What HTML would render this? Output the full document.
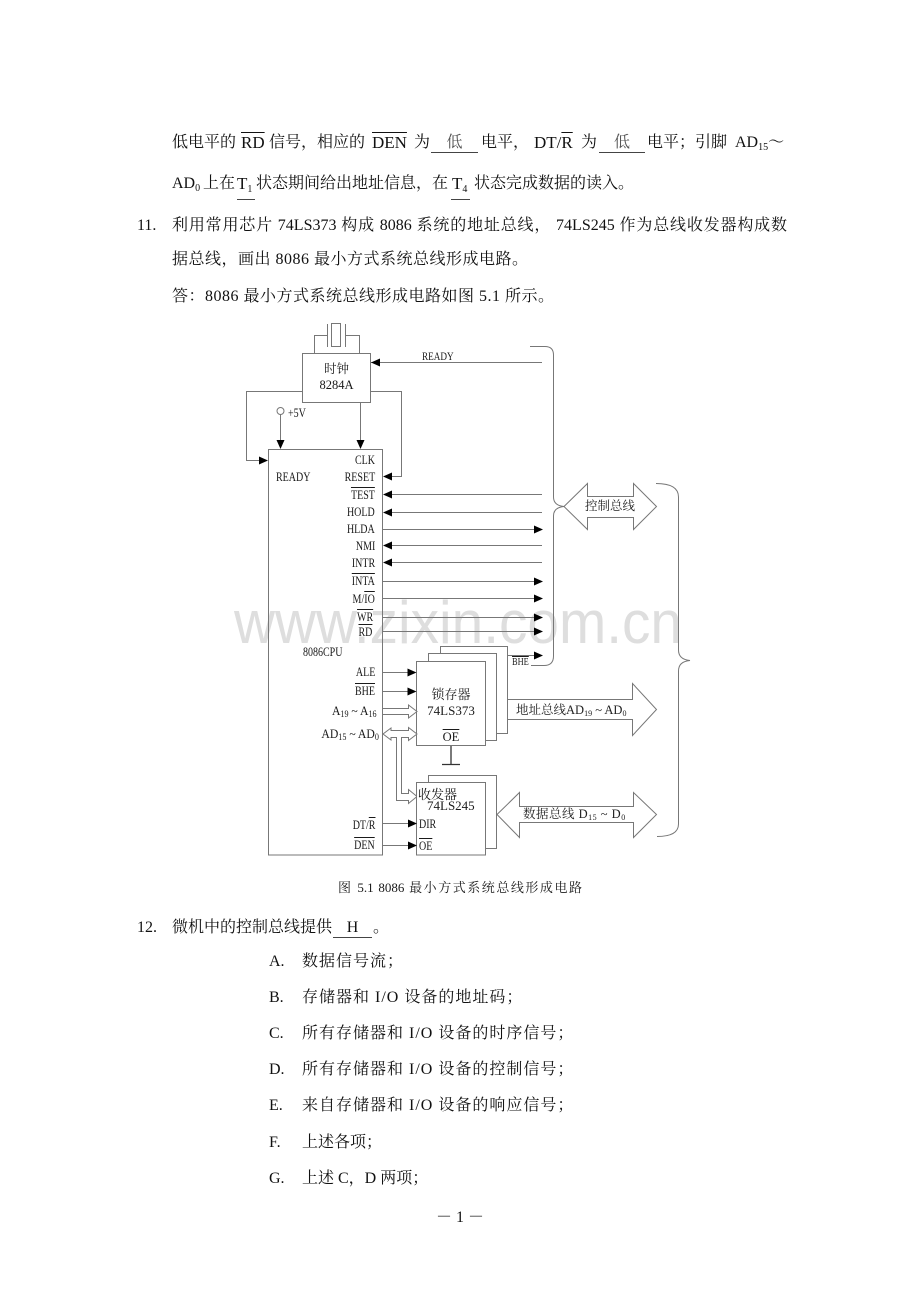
<!DOCTYPE html>
<html><head><meta charset="utf-8">
<style>
html,body{margin:0;padding:0;background:#fff;}
#pg{position:relative;width:920px;height:1302px;overflow:hidden;background:#fff;color:#111;font-family:"Liberation Serif","Noto Serif CJK SC",serif;}
.t{position:absolute;font-size:16px;line-height:18px;height:18px;white-space:nowrap;}
.t sub{font-size:10px;vertical-align:-3px;line-height:0;}
.o{text-decoration:overline;}
.u{position:absolute;border-bottom:1px solid #444;height:0;}
.r{position:absolute;right:545px;font-size:12.5px;line-height:14px;white-space:nowrap;transform:scaleX(.8);transform-origin:100% 50%;color:#1a1a1a;}
.l{position:absolute;font-size:12.5px;line-height:14px;white-space:nowrap;transform:scaleX(.8);transform-origin:0 50%;color:#1a1a1a;}
.c{position:absolute;font-size:13px;line-height:15px;white-space:nowrap;text-align:center;color:#1a1a1a;}
.r sub,.l sub,.c sub,.b sub{font-size:8px;vertical-align:-2px;line-height:0;}
.r.w{transform:scaleX(.9);font-size:13px;}
.r.w sub{font-size:9px;}
.b{position:absolute;font-size:12.5px;line-height:14px;white-space:nowrap;color:#222;}
</style></head>
<body><div id="pg">

<svg width="920" height="1302" style="position:absolute;left:0;top:0">
<text x="234" y="643" font-family="Liberation Sans, sans-serif" font-size="60" fill="#dedede" textLength="448" lengthAdjust="spacingAndGlyphs">www.zixin.com.cn</text>
<g fill="none" stroke="#777" stroke-width="1">
<path d="M314.5 353V335.5H327.5M345.5 335.5H359.5V353"/>
<line x1="327.5" y1="324" x2="327.5" y2="347"/>
<line x1="345.5" y1="324" x2="345.5" y2="347"/>
<rect x="331.5" y="323.5" width="9" height="23"/>
<rect x="302.5" y="353.5" width="68" height="49" fill="#fff"/>
<path d="M371 362.5H542"/>
<path d="M302 391.5H246.5V460.5H262"/>
<circle cx="280.5" cy="411" r="3.5" fill="#fff"/>
<path d="M280.5 414.5V442"/>
<path d="M360.5 403V442"/>
<path d="M371 391.5H401.5V476.5H390"/>
<rect x="268.5" y="449.5" width="114" height="405.5" fill="none"/>
<path d="M390 494.5H542M390 512.5H542M383 529.5H535M390 545.5H542M390 562.5H542M383 581.5H535M383 598.5H535M383 617.5H535M383 631.5H535M508 655.5H535"/>
<path d="M383 672.5H409M383 691.5H409M383 823.5H410M383 845.5H410"/>
<path d="M530 346.5H545Q553.5 346.5 553.5 355V497Q553.5 505.5 564 506.5Q553.5 507.5 553.5 516V656Q553.5 665.5 544 665.5H531"/>
<path d="M564 506.5L587.5 483.5V496.5H633.5V483.5L656.5 506.5L633.5 529.5V517.5H587.5V529.5Z" fill="#fff"/>
<path d="M656 483.5Q678.5 483.5 678.5 497V650Q678.5 659.5 690 660.5Q678.5 661.5 678.5 671V824Q678.5 836.5 657 836.5"/>
<rect x="440.5" y="646.5" width="67" height="87" fill="#fff"/>
<rect x="428.5" y="653.5" width="68" height="87" fill="#fff"/>
<rect x="416.5" y="661.5" width="69" height="84" fill="#fff"/>
<path d="M383 708.5H408.5V705L417 711.5L408.5 718V714.5H383" fill="#fff"/>
<path d="M391 728L383 734L391 740V737.5H396.5V800.5H408.5V803.5L417 796.5L408.5 789.5V793.5H401.5V737.5H408.5V740.5L417 734L408.5 727.5V730.5H391Z" fill="#fff"/>
<rect x="428.5" y="775.5" width="68" height="73" fill="#fff"/>
<rect x="416.5" y="782.5" width="69" height="72.5" fill="#fff"/>
<path d="M508 699.5H632.5V683.5L656.5 709.5L632.5 735.5V719.5H508" fill="#fff"/>
<path d="M497 814.5L519.5 792.5V806.5H633.5V792.5L656.5 814.5L633.5 837.5V822.5H519.5V837.5Z" fill="#fff"/>
</g>
<g stroke="#333" stroke-width="1.3" fill="none">
<path d="M451 746V764M442 764.5H460"/>
</g>
<g fill="#000">
<polygon points="371,362.5 380,358.5 380,366.5"/>
<polygon points="268,460.5 259,456.5 259,464.5"/>
<polygon points="280.5,449 276.5,440 284.5,440"/>
<polygon points="360.5,449 356.5,440 364.5,440"/>
<polygon points="383,476.5 392,472.5 392,480.5"/>
<polygon points="383,494.5 392,490.5 392,498.5"/>
<polygon points="383,512.5 392,508.5 392,516.5"/>
<polygon points="383,545.5 392,541.5 392,549.5"/>
<polygon points="383,562.5 392,558.5 392,566.5"/>
<polygon points="543,529.5 534,525.5 534,533.5"/>
<polygon points="543,581.5 534,577.5 534,585.5"/>
<polygon points="543,598.5 534,594.5 534,602.5"/>
<polygon points="543,617.5 534,613.5 534,621.5"/>
<polygon points="543,631.5 534,627.5 534,635.5"/>
<polygon points="543,655.5 534,651.5 534,659.5"/>
<polygon points="416.5,672.5 407.5,668.5 407.5,676.5"/>
<polygon points="416.5,691.5 407.5,687.5 407.5,695.5"/>
<polygon points="417,823.5 408,819.5 408,827.5"/>
<polygon points="417,845.5 408,841.5 408,849.5"/>
</g>
</svg>

<div class="t" style="left:172px;top:134px">低电平的</div>
<div class="t" style="left:241px;top:134px;font-size:17px"><span class="o">RD</span></div>
<div class="t" style="left:269px;top:134px">信号，相应的</div>
<div class="t" style="left:372px;top:134px;font-size:17px"><span class="o">DEN</span></div>
<div class="t" style="left:414px;top:134px">为</div>
<div class="t" style="left:431px;top:134px;width:47px;text-align:center;color:#555">低</div>
<div class="u" style="left:431px;top:152px;width:47px"></div>
<div class="t" style="left:481px;top:134px">电平，</div>
<div class="t" style="left:534px;top:134px;font-size:17px">DT/<span class="o">R</span></div>
<div class="t" style="left:581px;top:134px">为</div>
<div class="t" style="left:599px;top:134px;width:46px;text-align:center;color:#555">低</div>
<div class="u" style="left:599px;top:152px;width:46px"></div>
<div class="t" style="left:647px;top:134px">电平；引脚</div>
<div class="t" style="left:735px;top:134px">AD<sub>15</sub>～</div>

<div class="t" style="left:172px;top:175px">AD<sub>0</sub></div>
<div class="t" style="left:203px;top:175px">上在</div>
<div class="t" style="left:237px;top:175px;font-size:17px">T<sub>1</sub></div>
<div class="u" style="left:237px;top:199px;width:18px"></div>
<div class="t" style="left:256px;top:175px">状态期间给出地址信息，在</div>
<div class="t" style="left:452px;top:175px;font-size:17px">T<sub>4</sub></div>
<div class="u" style="left:451px;top:199px;width:19px"></div>
<div class="t" style="left:474px;top:175px">状态完成数据的读入。</div>

<div class="t" style="left:137px;top:217px">11.</div>
<div class="t" style="left:172px;top:217px;width:615px;text-align:justify;text-align-last:justify">利用常用芯片 74LS373 构成 8086 系统的地址总线， 74LS245 作为总线收发器构成数</div>
<div class="t" style="left:172px;top:251px;letter-spacing:0.5px">据总线，画出 8086 最小方式系统总线形成电路。</div>
<div class="t" style="left:172px;top:288px;letter-spacing:0.5px">答：8086 最小方式系统总线形成电路如图 5.1 所示。</div>

<div class="c" style="left:302px;top:362px;width:69px;font-size:12.5px">时钟</div>
<div class="c" style="left:302px;top:378px;width:69px;font-size:12.5px">8284A</div>
<div class="l" style="left:422px;top:350px;font-size:11.5px">READY</div>
<div class="l" style="left:288px;top:406px">+5V</div>

<div class="r" style="top:453px">CLK</div>
<div class="l" style="left:276px;top:470px">READY</div>
<div class="r" style="top:470px">RESET</div>
<div class="r" style="top:488px"><span class="o">TEST</span></div>
<div class="r" style="top:505px">HOLD</div>
<div class="r" style="top:522px">HLDA</div>
<div class="r" style="top:539px">NMI</div>
<div class="r" style="top:556px">INTR</div>
<div class="r" style="top:574px"><span class="o">INTA</span></div>
<div class="r" style="top:592px">M/<span class="o">IO</span></div>
<div class="r" style="top:610px;right:547px"><span class="o">WR</span></div>
<div class="r" style="top:625px;right:548px"><span class="o">RD</span></div>
<div class="l" style="left:303px;top:645px">8086CPU</div>
<div class="r" style="top:665px">ALE</div>
<div class="r" style="top:684px"><span class="o">BHE</span></div>
<div class="r w" style="top:704px;right:543px">A<sub>19</sub> ~ A<sub>16</sub></div>
<div class="r w" style="top:727px;right:541px">AD<sub>15</sub> ~ AD<sub>0</sub></div>
<div class="r" style="top:818px">DT/<span class="o">R</span></div>
<div class="r" style="top:838px"><span class="o">DEN</span></div>
<div class="l" style="left:512px;top:656px;font-size:10.5px"><span class="o">BHE</span></div>

<div class="c" style="left:416px;top:687px;width:70px">锁存器</div>
<div class="c" style="left:416px;top:703px;width:70px">74LS373</div>
<div class="c" style="left:416px;top:730px;width:70px;font-size:12.5px"><span class="o">OE</span></div>

<div class="c" style="left:418px;top:787px;text-align:left">收发器</div>
<div class="c" style="left:427px;top:798px;text-align:left">74LS245</div>
<div class="l" style="left:419px;top:817px">DIR</div>
<div class="l" style="left:419px;top:839px"><span class="o">OE</span></div>

<div class="b" style="left:585px;top:499px">控制总线</div>
<div class="b" style="left:516px;top:703px">地址总线AD<sub>19</sub> ~ AD<sub>0</sub></div>
<div class="b" style="left:523px;top:807px;letter-spacing:0.5px">数据总线 D<sub>15</sub> ~ D<sub>0</sub></div>

<div class="c" style="left:338px;top:880px;width:244px;text-align:justify;text-align-last:justify">图 5.1 8086 最小方式系统总线形成电路</div>

<div class="t" style="left:137px;top:919px">12.</div>
<div class="t" style="left:172px;top:919px">微机中的控制总线提供</div>
<div class="t" style="left:333px;top:919px;width:39px;text-align:center">H</div>
<div class="u" style="left:333px;top:937px;width:39px"></div>
<div class="t" style="left:373px;top:919px">。</div>

<div class="t" style="left:269px;top:953px">A.</div>
<div class="t" style="left:302px;top:953px;letter-spacing:1px">数据信号流；</div>
<div class="t" style="left:269px;top:989px">B.</div>
<div class="t" style="left:302px;top:989px;letter-spacing:1px">存储器和 I/O 设备的地址码；</div>
<div class="t" style="left:269px;top:1025px">C.</div>
<div class="t" style="left:302px;top:1025px;letter-spacing:1px">所有存储器和 I/O 设备的时序信号；</div>
<div class="t" style="left:269px;top:1061px">D.</div>
<div class="t" style="left:302px;top:1061px;letter-spacing:1px">所有存储器和 I/O 设备的控制信号；</div>
<div class="t" style="left:269px;top:1097px">E.</div>
<div class="t" style="left:302px;top:1097px;letter-spacing:1px">来自存储器和 I/O 设备的响应信号；</div>
<div class="t" style="left:269px;top:1134px">F.</div>
<div class="t" style="left:302px;top:1134px">上述各项；</div>
<div class="t" style="left:269px;top:1170px">G.</div>
<div class="t" style="left:302px;top:1170px">上述 C，D 两项；</div>

<div class="t" style="left:0;top:1209px;width:920px;text-align:center">－ 1 －</div>

</div></body></html>
